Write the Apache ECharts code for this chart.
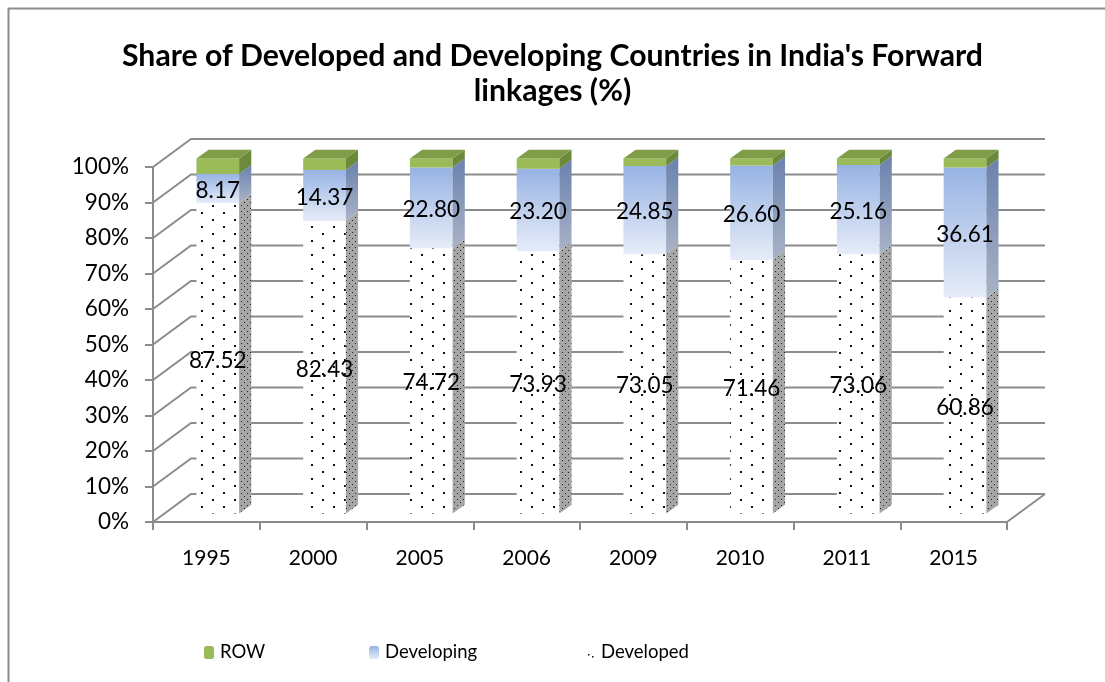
<!DOCTYPE html>
<html><head><meta charset="utf-8">
<script src="https://cdn.jsdelivr.net/npm/echarts@6/dist/echarts.min.js"></script>
<style>html,body{margin:0;padding:0;background:#fff}#c{width:1105px;height:682px}</style>
</head><body><div id="c"></div>
<script>
// ---- data ----
const years = ['1995','2000','2005','2006','2009','2010','2011','2015'];
const developed = [87.52, 82.43, 74.72, 73.93, 73.05, 71.46, 73.06, 60.86];
const developing = [8.17, 14.37, 22.80, 23.20, 24.85, 26.60, 25.16, 36.61];
const row = [4.31, 3.20, 2.48, 2.87, 2.10, 1.94, 1.78, 2.53];
const yTicks = [0, 10, 20, 30, 40, 50, 60, 70, 80, 90, 100];
const titleText = "Share of Developed and Developing Countries in India's Forward\nlinkages (%)";

// ---- style / layout ----
const FONT = 'Lato';
const DX = 38, DY = -28;      // depth of the 3D box
const F0 = 0.30, F1 = 0.62;   // bar front/back depth fraction
const HALF = 0.2;             // half bar width as share of band
const GRID = '#8c8c8c';

function makePattern(w, h, bg, dots, dotColor, r) {
  const c = document.createElement('canvas'); c.width = w; c.height = h;
  const g = c.getContext('2d'); g.fillStyle = bg; g.fillRect(0, 0, w, h);
  g.fillStyle = dotColor;
  dots.forEach(d => g.fillRect(d[0], d[1], r, r));
  return { image: c, repeat: 'repeat' };
}
const frontDots = makePattern(22, 14, '#ffffff', [[3, 2], [14, 9]], '#111', 2);
const sideDots = makePattern(6, 6, '#a6a6a6', [[1, 1], [4, 4]], '#222', 1);
const legendDots = makePattern(10, 14, '#ffffff', [[3, 8], [7, 10]], '#111', 1.5);

const grad = (a, b) => new echarts.graphic.LinearGradient(0, 0, 0, 1, [{offset: 0, color: a}, {offset: 1, color: b}]);

const styles = {
  Developed: { front: () => frontDots, side: () => sideDots, label: true },
  Developing: { front: () => grad('#97b3e3', '#e6ecf8'), side: () => grad('#6a82ae', '#a9b3c6'), label: true },
  ROW: { front: () => '#9bbb59', side: () => '#6b8a3b', top: () => '#7f9d47', label: false }
};

const base1 = developed.map(() => 0);
const base2 = developed.slice();
const base3 = developed.map((v, i) => v + developing[i]);
const mk = (base, vals) => vals.map((v, i) => [i, base[i], base[i] + v, v]);

function barRender(name) {
  const st = styles[name];
  return function (params, api) {
    const i = api.value(0), lo = api.value(1), hi = api.value(2), v = api.value(3);
    const pLo = api.coord([i, lo]), pHi = api.coord([i, hi]);
    const band = api.size([1, 0])[0];
    const hw = band * HALF;
    const xl = pLo[0] - hw, xr = pLo[0] + hw;
    const fx0 = F0 * DX, fy0 = F0 * DY, fx1 = F1 * DX, fy1 = F1 * DY;
    const yT = pHi[1], yB = pLo[1];
    const children = [];
    children.push({ type: 'polygon', shape: { points: [[xl + fx0, yT + fy0], [xr + fx0, yT + fy0], [xr + fx0, yB + fy0], [xl + fx0, yB + fy0]] },
      style: { fill: st.front(), stroke: null } });
    children.push({ type: 'polygon', shape: { points: [[xr + fx0, yT + fy0], [xr + fx1, yT + fy1], [xr + fx1, yB + fy1], [xr + fx0, yB + fy0]] },
      style: { fill: st.side(), stroke: null } });
    if (st.top) {
      children.push({ type: 'polygon', shape: { points: [[xl + fx0, yT + fy0], [xr + fx0, yT + fy0], [xr + fx1, yT + fy1], [xl + fx1, yT + fy1]] },
        style: { fill: st.top(), stroke: null } });
    }
    if (st.label) {
      children.push({ type: 'text', z2: 100, x: (xl + xr) / 2 + fx0, y: (yT + yB) / 2 + fy0 + 2,
        style: { text: v.toFixed(2), fill: '#000', fontSize: 22.5, fontFamily: FONT, align: 'center', verticalAlign: 'middle' } });
    }
    return { type: 'group', children };
  };
}

function wallRender(params, api) {
  const t = api.value(0);
  const cs = params.coordSys;
  const y = api.coord([0, t])[1];
  const left = cs.x, right = cs.x + cs.width;
  const children = [{ type: 'polyline', shape: { points: [[left, y], [left + DX, y + DY], [right + DX, y + DY]] },
    style: { stroke: GRID, lineWidth: 2, fill: null } }];
  if (t === 0) {
    children.push({ type: 'line', shape: { x1: right, y1: y, x2: right + DX, y2: y + DY }, style: { stroke: GRID, lineWidth: 2 } });
  }
  return { type: 'group', children };
}

const chart = echarts.init(document.getElementById('c'), null, { renderer: 'canvas' });
const legendBase = { orient: 'horizontal', top: 643, padding: 0, itemWidth: 10, itemHeight: 13, itemGap: 0,
  textStyle: { fontFamily: FONT, fontSize: 18.5, color: '#000', padding: [0, 0, 0, 1] }, selectedMode: false };
chart.setOption({
  animation: false,
  backgroundColor: '#fff',
  title: { text: titleText, left: 'center', top: 39, padding: 0,
    textStyle: { fontFamily: FONT, fontWeight: 'bold', fontSize: 30.2, lineHeight: 35, color: '#000' } },
  grid: { left: 153, top: 167, width: 854, height: 355, containLabel: false },
  xAxis: { type: 'category', data: years, boundaryGap: true,
    axisLine: { lineStyle: { color: GRID, width: 2 } },
    axisTick: { show: true, length: 8, lineStyle: { color: GRID, width: 2 } },
    axisLabel: { fontFamily: FONT, fontSize: 21, color: '#000', margin: 26 },
    splitLine: { show: false } },
  yAxis: { type: 'value', min: 0, max: 100, interval: 10,
    axisLine: { show: true, lineStyle: { color: GRID, width: 2 } },
    axisTick: { show: true, length: 8, lineStyle: { color: GRID, width: 2 } },
    axisLabel: { formatter: '{value}%', fontFamily: FONT, fontSize: 22.5, color: '#000', margin: 24 },
    splitLine: { show: false } },
  legend: [
    Object.assign({}, legendBase, { left: 204, data: [{ name: 'ROW', itemStyle: { color: '#9bbb59' } }] }),
    Object.assign({}, legendBase, { left: 369, data: [{ name: 'Developing', itemStyle: { color: grad('#97b3e3', '#e6ecf8') } }] }),
    Object.assign({}, legendBase, { left: 585, data: [{ name: 'Developed', itemStyle: { color: legendDots } }] })
  ],
  graphic: [
    { type: 'line', shape: { x1: 8, y1: 8.5, x2: 1105, y2: 8.5 }, style: { stroke: GRID, lineWidth: 2 } },
    { type: 'line', shape: { x1: 8.5, y1: 8, x2: 8.5, y2: 682 }, style: { stroke: GRID, lineWidth: 2 } }
  ],
  series: [
    { type: 'custom', name: 'walls', z: 1, silent: true, renderItem: wallRender, data: yTicks.map(t => [t]), encode: { y: 0 } },
    { type: 'custom', name: 'Developed', z: 2, renderItem: barRender('Developed'), data: mk(base1, developed), itemStyle: { color: legendDots } },
    { type: 'custom', name: 'Developing', z: 2, renderItem: barRender('Developing'), data: mk(base2, developing), itemStyle: { color: '#97b3e3' } },
    { type: 'custom', name: 'ROW', z: 2, renderItem: barRender('ROW'), data: mk(base3, row), itemStyle: { color: '#9bbb59' } }
  ]
});
</script>
</body></html>
